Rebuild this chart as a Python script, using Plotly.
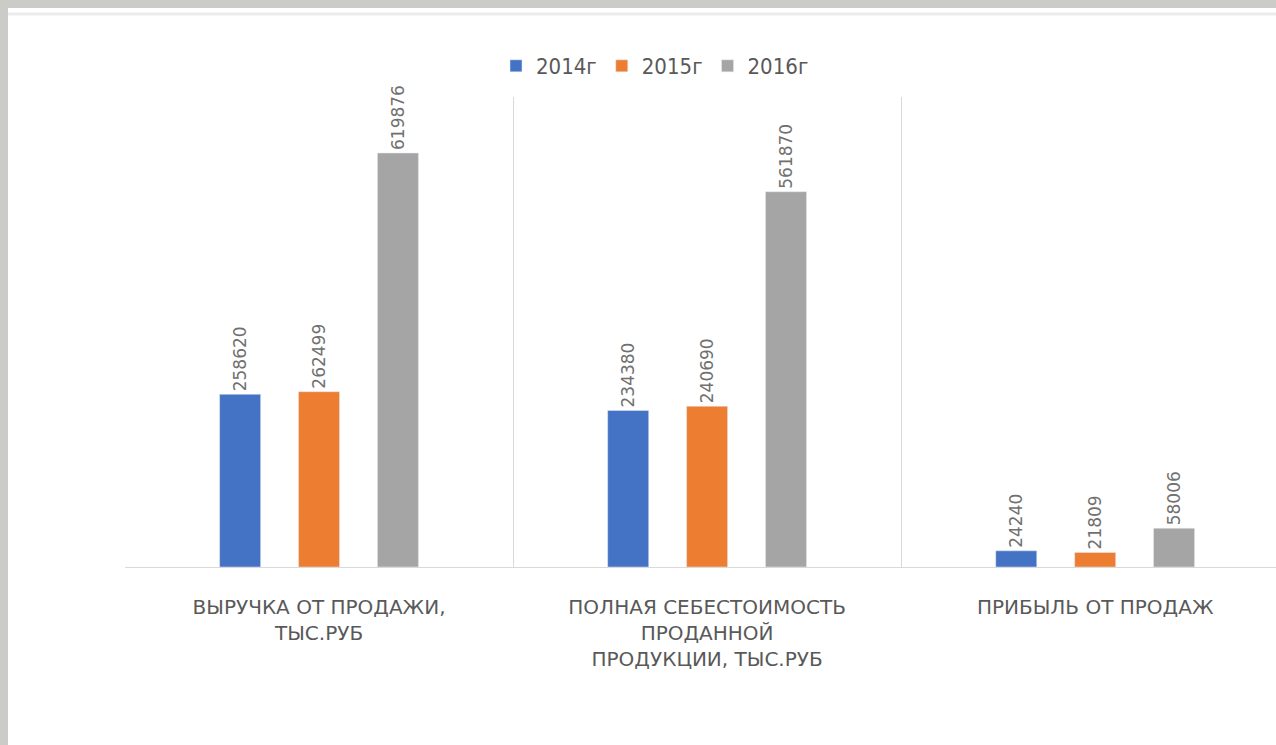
import plotly.graph_objects as go

categories = [
    "ВЫРУЧКА ОТ ПРОДАЖИ,<br>ТЫС.РУБ",
    "ПОЛНАЯ СЕБЕСТОИМОСТЬ<br>ПРОДАННОЙ<br>ПРОДУКЦИИ, ТЫС.РУБ",
    "ПРИБЫЛЬ ОТ ПРОДАЖ",
]
series_names = ["2014г", "2015г", "2016г"]
values_2014 = [258620, 234380, 24240]
values_2015 = [262499, 240690, 21809]
values_2016 = [619876, 561870, 58006]
colors = ["#4472C4", "#ED7D31", "#A5A5A5"]

W, H = 1276, 745
L, R, T, B = 125, 0, 97, 178
pw, ph = W - L - R, H - T - B

fig = go.Figure()
for name, vals, col in zip(series_names, [values_2014, values_2015, values_2016], colors):
    fig.add_trace(go.Bar(
        x=categories, y=vals, name=name, marker_color=col,
        text=[str(v) for v in vals], textposition="outside", textangle=-90,
        constraintext="none",
        textfont=dict(family="DejaVu Sans", size=17, color="#707070"),
        cliponaxis=False,
    ))

def px_x(p):
    return (p - L) / pw

def px_y(p):
    return (H - B - p) / ph

fig.add_shape(type="rect", xref="paper", yref="paper", layer="below",
              x0=px_x(0), x1=px_x(W), y0=px_y(H), y1=px_y(0),
              fillcolor="#cbcbc7", line_width=0)
fig.add_shape(type="rect", xref="paper", yref="paper", layer="below",
              x0=px_x(8), x1=px_x(W + 5), y0=px_y(H + 5), y1=px_y(8),
              fillcolor="white", line_width=0)
fig.add_shape(type="line", xref="paper", yref="paper", layer="below",
              x0=px_x(8), x1=px_x(W), y0=px_y(14), y1=px_y(14),
              line=dict(color="#ececec", width=3))

fig.update_layout(
    width=W, height=H,
    margin=dict(l=L, r=R, t=T, b=B, pad=0),
    paper_bgcolor="white", plot_bgcolor="rgba(0,0,0,0)",
    barmode="group", bargap=0.39, bargroupgap=0.48,
    showlegend=True,
    legend=dict(orientation="h", x=px_x(655), xanchor="center", y=px_y(66), yanchor="middle",
                font=dict(family="DejaVu Sans Condensed, DejaVu Sans", size=22, color="#595959"),
                itemwidth=30, tracegroupgap=0, bgcolor="rgba(0,0,0,0)"),
    xaxis=dict(range=[-0.5, 2.466], showgrid=True, gridcolor="#d9d9d9", gridwidth=1,
               tickson="boundaries", showline=True, linecolor="#d9d9d9", linewidth=1,
               ticks="", ticklabelstandoff=22,
               tickfont=dict(family="DejaVu Sans", size=20, color="#595959")),
    yaxis=dict(range=[0, 703700], showgrid=False, showticklabels=False, zeroline=False,
               showline=False),
    font=dict(family="Open Sans", color="#595959"),
)

fig.write_html("out.html")
